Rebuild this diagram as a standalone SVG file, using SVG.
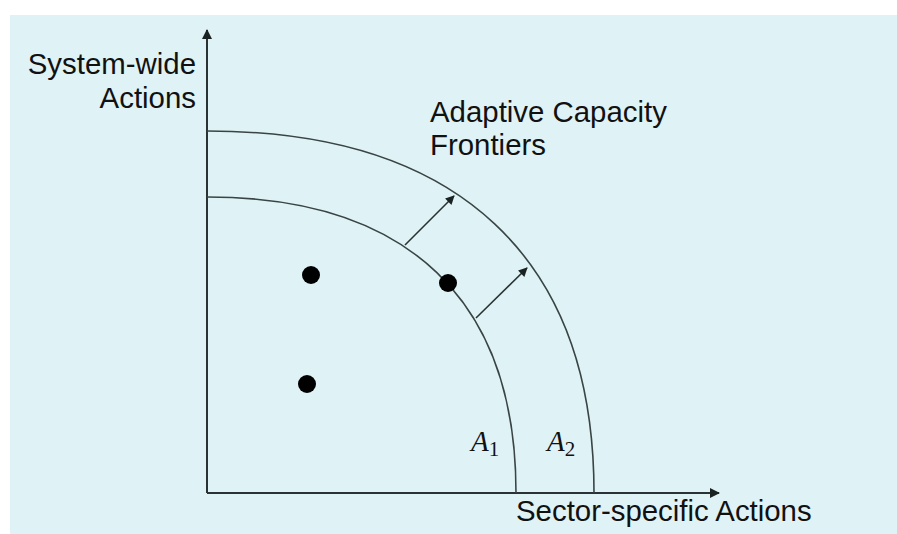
<svg xmlns="http://www.w3.org/2000/svg" width="897" height="534" viewBox="0 0 897 534">
<style>
.lbl{font-family:"Liberation Sans",Arial,sans-serif;font-size:29.4px;fill:#111}
.math{font-family:"Liberation Serif","DejaVu Serif",serif;font-style:italic;font-size:29px;fill:#111}
.sub{font-family:"Liberation Serif","DejaVu Serif",serif;font-size:21px;fill:#111}
.axis{stroke:#2a3333;stroke-width:2;fill:none}
.arc{stroke:#3a4444;stroke-width:1.6;fill:none}
.shift{stroke:#2a3333;stroke-width:1.6;fill:none}
.dot{fill:#000}
</style>
<defs>
<marker id="ah" viewBox="0 0 10 10" refX="9" refY="5" markerWidth="10" markerHeight="9" markerUnits="userSpaceOnUse" orient="auto">
<path d="M0,0 L10,5 L0,10 Z" fill="#1a2222"/>
</marker>
<marker id="ah2" viewBox="0 0 10 10" refX="9" refY="5" markerWidth="12" markerHeight="10" markerUnits="userSpaceOnUse" orient="auto">
<path d="M0,0 L10,5 L0,10 Z" fill="#1a2222"/>
</marker>
</defs>
<rect x="10" y="15" width="887" height="519" fill="#dff3f6"/>
<g id="connectors">
<path id="y-axis" class="axis" d="M207,493 L207,30" marker-end="url(#ah2)"/>
<path id="x-axis" class="axis" d="M207,493 L719,493" marker-end="url(#ah2)"/>
<path id="shift1" class="shift" d="M405,245 L454,196" marker-end="url(#ah)"/>
<path id="shift2" class="shift" d="M476,318 L527,268" marker-end="url(#ah)"/>
</g>
<g id="frontier-A1">
<path class="arc" d="M207,197 C408,197 516,300 516,493"/>
</g>
<g id="frontier-A2">
<path class="arc" d="M207,131 C458,131 594,258 594,493"/>
</g>
<g id="points">
<circle class="dot" cx="311" cy="275" r="9"/>
<circle class="dot" cx="448" cy="283" r="9"/>
<circle class="dot" cx="307" cy="384" r="9"/>
</g>
<g id="label-y">
<text class="lbl" x="196" y="74" text-anchor="end">System-wide</text>
<text class="lbl" x="196" y="108" text-anchor="end">Actions</text>
</g>
<g id="label-x">
<text class="lbl" x="516" y="521">Sector-specific Actions</text>
</g>
<g id="label-frontiers">
<text class="lbl" x="430" y="122">Adaptive Capacity</text>
<text class="lbl" x="430" y="155">Frontiers</text>
</g>
<g id="label-A1">
<text x="471" y="451"><tspan class="math">A</tspan><tspan class="sub" dy="5">1</tspan></text>
</g>
<g id="label-A2">
<text x="547" y="451"><tspan class="math">A</tspan><tspan class="sub" dy="5">2</tspan></text>
</g>
</svg>
